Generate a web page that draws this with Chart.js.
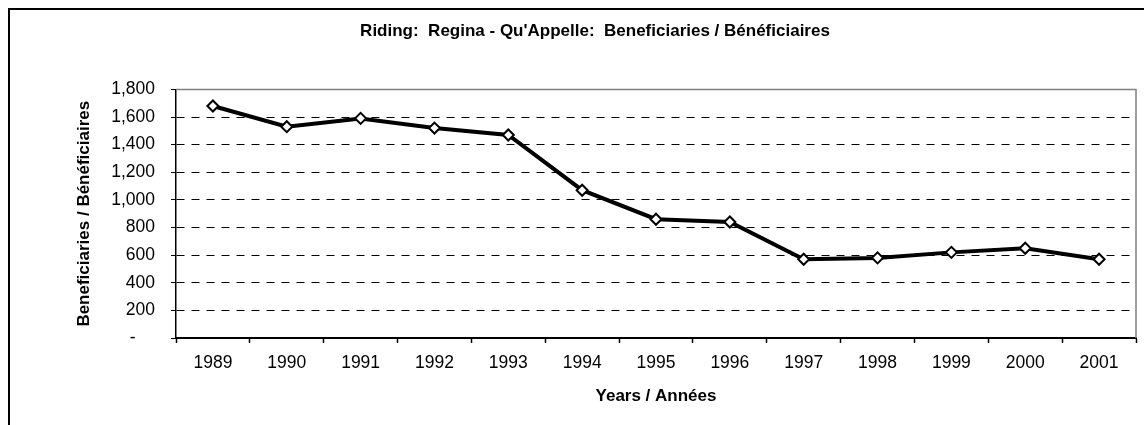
<!DOCTYPE html>
<html>
<head>
<meta charset="utf-8">
<script src="https://cdn.jsdelivr.net/npm/chart.js@4.4.1/dist/chart.umd.min.js"></script>
<style>
    html, body { margin: 0; padding: 0; background: #fff; overflow: hidden; }
    #frame {
        position: absolute;
        left: 8px;
        top: 8px;
        width: 1200px;
        height: 440px;
        border-left: 2px solid #000;
        border-top: 2px solid #000;
    }
</style>
</head>
<body>
<div id="frame">
    <canvas id="ridingChart" width="1170" height="415"></canvas>
</div>
<script>
const years = ['1989', '1990', '1991', '1992', '1993', '1994', '1995', '1996', '1997', '1998', '1999', '2000', '2001'];
const beneficiaries = [1680, 1530, 1590, 1520, 1470, 1070, 860, 840, 570, 580, 620, 650, 570];
const yMin = 0;
const yMax = 1800;
const yStep = 200;

const chartTitle = "Riding:  Regina - Qu'Appelle:  Beneficiaries / Bénéficiaires";
const xTitle = 'Years / Années';
const yTitle = 'Beneficiaries / Bénéficiaires';

const fontFamily = "'Liberation Sans', Arial, sans-serif";

// grey plot-area edge on top and right (Excel style)
const plotEdge = {
    id: 'plotEdge',
    beforeDatasetsDraw(chart) {
        const { ctx, chartArea } = chart;
        ctx.save();
        ctx.strokeStyle = '#808080';
        ctx.lineWidth = 1.5;
        ctx.beginPath();
        ctx.moveTo(chartArea.left, chartArea.top);
        ctx.lineTo(chartArea.right, chartArea.top);
        ctx.lineTo(chartArea.right, chartArea.bottom);
        ctx.stroke();
        ctx.restore();
    }
};

const ctx = document.getElementById('ridingChart').getContext('2d');
const ridingChart = new Chart(ctx, {
    type: 'line',
    data: {
        labels: years,
        datasets: [{
            label: yTitle,
            data: beneficiaries,
            borderColor: '#000',
            borderWidth: 4,
            pointStyle: 'rectRot',
            pointRadius: 5.5,
            pointBorderWidth: 2,
            pointBackgroundColor: '#fff',
            pointBorderColor: '#000',
            tension: 0,
            yAxisID: 'y'
        }]
    },
    options: {
        responsive: false,
        animation: false,
        devicePixelRatio: 1,
        layout: { padding: 0 },
        plugins: {
            legend: { display: false },
            tooltip: { enabled: false },
            title: {
                display: true,
                text: chartTitle,
                color: '#000',
                font: { family: fontFamily, size: 17, weight: 'bold' },
                padding: { top: 11, bottom: 48 }
            }
        },
        scales: {
            x: {
                type: 'category',
                offset: true,
                grid: {
                    offset: true,
                    drawOnChartArea: false,
                    drawTicks: true,
                    tickLength: 5,
                    tickColor: '#000',
                    tickWidth: 1.5
                },
                border: { display: true, color: '#000', width: 2 },
                ticks: {
                    color: '#000',
                    padding: 10,
                    maxRotation: 0,
                    autoSkip: false,
                    font: { family: fontFamily, size: 17.5 }
                },
                title: {
                    display: true,
                    text: xTitle,
                    color: '#000',
                    font: { family: fontFamily, size: 17, weight: 'bold' },
                    padding: { top: 0, bottom: 18 }
                },
                afterFit(scale) {
                    scale.height = 87;
                }
            },
            y: {
                position: 'left',
                min: yMin,
                max: yMax,
                grid: {
                    color: '#000',
                    lineWidth: 1,
                    drawTicks: true,
                    tickLength: 5,
                    tickColor: '#000',
                    tickBorderDash: []
                },
                border: { display: true, color: '#000', width: 1.5, dash: [8, 7] },
                ticks: {
                    stepSize: yStep,
                    color: '#000',
                    padding: 16,
                    font: { family: fontFamily, size: 17.5 },
                    callback: (value) => value === 0 ? '-    ' : value.toLocaleString('en-US')
                },
                title: {
                    display: true,
                    text: yTitle,
                    color: '#000',
                    font: { family: fontFamily, size: 17, weight: 'bold' },
                    padding: { top: 64, bottom: 0 }
                },
                afterFit(scale) {
                    scale.width = 166;
                }
            },
            // empty spacer on the right so the title centres on the whole frame
            spacer: {
                position: 'right',
                min: yMin,
                max: yMax,
                grid: { display: false },
                border: { display: false },
                ticks: { display: false },
                afterFit(scale) {
                    scale.width = 44;
                }
            }
        }
    },
    plugins: [plotEdge]
});
</script>
</body>
</html>
